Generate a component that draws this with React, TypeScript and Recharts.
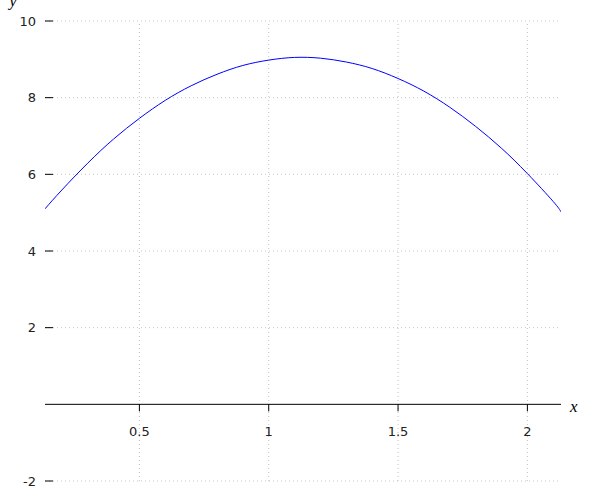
import { LineChart, Line, XAxis, YAxis, CartesianGrid, ReferenceLine, ReferenceDot } from "recharts";

const xValues = [0.135, 0.2, 0.3, 0.4, 0.5, 0.6, 0.7, 0.8, 0.9, 1.0, 1.1, 1.2, 1.3, 1.4, 1.5, 1.6, 1.7, 1.8, 1.9, 2.0, 2.1, 2.13];
const yValues = [5.1, 5.59, 6.29, 6.92, 7.46, 7.93, 8.31, 8.61, 8.84, 8.98, 9.05, 9.03, 8.93, 8.76, 8.5, 8.17, 7.75, 7.25, 6.68, 6.02, 5.29, 5.02];
const xTicks = [0.5, 1, 1.5, 2];
const yTicks = [-2, 2, 4, 6, 8, 10];

const data = xValues.map((x, i) => ({ x, y: yValues[i] }));

const FONT = "'DejaVu Sans', sans-serif";
const GRID = "#c4c4c4";

// y ticks: label left of the axis, tick mark pointing into the plot
const YTick = (props: any) => {
  const { x, y, payload } = props;
  return (
    <g>
      <line x1={x + 9} x2={x + 17} y1={y} y2={y} stroke="#000" />
      <text x={x} y={y} dy={4.5} textAnchor="end" fontSize={13} fontFamily={FONT} fill="#222">
        {payload.value}
      </text>
    </g>
  );
};

// x ticks sit on the y=0 line
const XTickMark = (label: string) => (props: any) => {
  const { cx, cy } = props;
  return (
    <g>
      <line x1={cx} x2={cx} y1={cy} y2={cy + 7} stroke="#000" />
      <text x={cx} y={cy + 32} textAnchor="middle" fontSize={13} fontFamily={FONT} fill="#222">
        {label}
      </text>
    </g>
  );
};

export default function App() {
  return (
    <div style={{ position: "absolute", left: 0, top: 0, width: 600, height: 500 }}>
      <LineChart width={600} height={500} data={data} margin={{ top: 21, right: 39, bottom: 19, left: 0 }}>
        <CartesianGrid stroke={GRID} strokeDasharray="1 3" vertical={false} />
        <XAxis type="number" dataKey="x" domain={[0.135, 2.13]} ticks={xTicks} hide allowDataOverflow />
        <YAxis
          type="number"
          domain={[-2, 10]}
          ticks={yTicks}
          width={45}
          axisLine={false}
          tickLine={false}
          tickSize={0}
          tickMargin={9}
          tick={<YTick />}
          label={{
            content: () => (
              <text x={13} y={6} textAnchor="middle" fontSize={17} fontStyle="italic" fontFamily="'Liberation Serif', serif" fill="#000">
                y
              </text>
            ),
          }}
        />
        {xTicks.map((t) => (
          <ReferenceLine key={"g" + t} x={t} stroke={GRID} strokeDasharray="1 3" />
        ))}
        <ReferenceLine
          y={0}
          stroke="#000"
          label={{ value: "x", position: "right", offset: 9, dy: 2, fontSize: 17, fontStyle: "italic", fontFamily: "'Liberation Serif', serif", fill: "#000" }}
        />
        {xTicks.map((t) => (
          <ReferenceDot key={t} x={t} y={0} r={0} shape={XTickMark(String(t))} />
        ))}
        <Line type="natural" dataKey="y" stroke="#0000ff" strokeWidth={1} dot={false} isAnimationActive={false} />
      </LineChart>
    </div>
  );
}
